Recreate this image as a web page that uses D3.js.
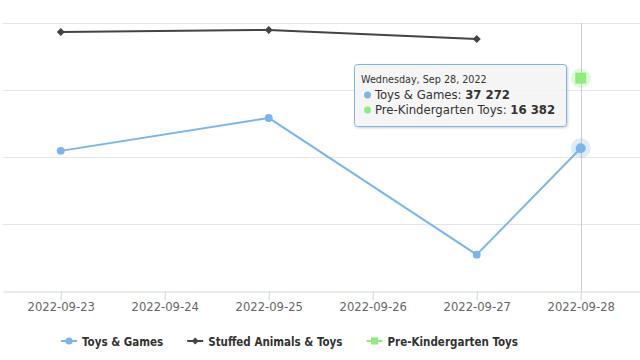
<!DOCTYPE html>
<html>
<head>
<meta charset="utf-8">
<script src="https://cdn.jsdelivr.net/npm/d3@7"></script>
<style>
  html, body { margin: 0; padding: 0; background: #fff; }
  svg { display: block; font-family: "DejaVu Sans Condensed", "DejaVu Sans", sans-serif; }
</style>
</head>
<body>
<svg id="chart" width="640" height="360"></svg>
<script>
// ---- data ----
const categories = ["2022-09-23", "2022-09-24", "2022-09-25", "2022-09-26", "2022-09-27", "2022-09-28"];
const toysGames = [36600, null, 45200, null, 9500, 37272];
const stuffedAnimals = [67650, null, 68200, null, 65800, null];
const preKindergarten = [null, null, null, null, null, 16382];
const seriesNames = ["Toys & Games", "Stuffed Animals & Toys", "Pre-Kindergarten Toys"];
const seriesColors = ["#7cb5ec", "#434348", "#90ed7d"];
const yTicks = [0, 17500, 35000, 52500, 70000];
const preKDomain = [0, 20630];
const tooltipHeader = "Wednesday, Sep 28, 2022";
const hoverIndex = 5;

// ---- setup ----
const svg = d3.select("#chart");
const plotLeft = 3, plotRight = 640, plotTop = 23, plotBottom = 291;

const x = d3.scaleLinear().domain([-0.555, 5.57]).range([plotLeft, plotRight]);
const y = d3.scaleLinear().domain([yTicks[0], yTicks[yTicks.length - 1]]).range([plotBottom, plotTop]);
const yPreK = d3.scaleLinear().domain(preKDomain).range([plotBottom, plotTop]);

// grid lines
svg.append("g").selectAll("line")
  .data(yTicks.slice(1))
  .join("line")
  .attr("x1", plotLeft).attr("x2", plotRight)
  .attr("y1", d => Math.round(y(d)) + 0.5).attr("y2", d => Math.round(y(d)) + 0.5)
  .attr("stroke", "#e6e6e6").attr("stroke-width", 1);

// crosshair
svg.append("line")
  .attr("x1", Math.round(x(hoverIndex)) + 0.5).attr("x2", Math.round(x(hoverIndex)) + 0.5)
  .attr("y1", plotTop).attr("y2", plotBottom)
  .attr("stroke", "#cccccc").attr("stroke-width", 1);

// x axis
const xAxis = d3.axisBottom(x)
  .tickValues(d3.range(categories.length))
  .tickFormat(i => categories[i])
  .tickSizeInner(9).tickSizeOuter(0).tickPadding(2);
const gx = svg.append("g").attr("transform", `translate(0,${plotBottom + 0.5})`).call(xAxis);
gx.select(".domain").attr("stroke", "#ccd6eb");
gx.selectAll(".tick line").attr("stroke", "#ccd6eb");
gx.selectAll(".tick text").attr("fill", "#666666").attr("font-size", "11.6px")
  .attr("font-family", "'DejaVu Sans', Verdana, sans-serif");

// series helpers
function pts(arr, scale) {
  return arr.map((v, i) => ({ i, v })).filter(d => d.v != null).map(d => ({ i: d.i, v: d.v, px: x(d.i), py: scale(d.v) }));
}
const lineGen = d3.line().x(d => d.px).y(d => d.py);

const seriesData = [pts(toysGames, y), pts(stuffedAnimals, y), pts(preKindergarten, yPreK)];
const symbolTypes = [d3.symbolCircle, d3.symbolSquare, d3.symbolSquare];
const symbolRotate = [0, 45, 0];

// lines
seriesData.forEach((data, s) => {
  if (data.length > 1) {
    svg.append("path").datum(data)
      .attr("d", lineGen)
      .attr("fill", "none")
      .attr("stroke", seriesColors[s])
      .attr("stroke-width", 2)
      .attr("stroke-linejoin", "round").attr("stroke-linecap", "round");
  }
});

// markers
const markerSizes = [50, 32, 64];
const hoverSizes = [80, 32, 121];
seriesData.forEach((data, s) => {
  const g = svg.append("g");
  data.forEach(d => {
    const hovered = d.i === hoverIndex;
    if (hovered) {
      g.append("circle").attr("cx", d.px).attr("cy", d.py).attr("r", 10)
        .attr("fill", seriesColors[s]).attr("opacity", 0.25);
    }
    g.append("path")
      .attr("transform", `translate(${d.px},${d.py}) rotate(${symbolRotate[s]})`)
      .attr("d", d3.symbol().type(symbolTypes[s]).size(hovered ? hoverSizes[s] : markerSizes[s]))
      .attr("fill", seriesColors[s]);
  });
});

// legend
const legend = svg.append("g").attr("transform", "translate(0,341)");
let lx = 61;
seriesNames.forEach((name, s) => {
  const item = legend.append("g").attr("transform", `translate(${lx},0)`);
  item.append("line").attr("x1", 0).attr("x2", 16).attr("y1", 0).attr("y2", 0)
    .attr("stroke", seriesColors[s]).attr("stroke-width", 2);
  item.append("path").attr("transform", `translate(8,0) rotate(${symbolRotate[s]})`)
    .attr("d", d3.symbol().type(symbolTypes[s]).size(markerSizes[s] * 0.8))
    .attr("fill", seriesColors[s]);
  const t = item.append("text").attr("x", 21).attr("y", 4.5)
    .attr("font-size", "11.5px").attr("font-weight", "bold").attr("fill", "#333333")
    .text(name);
  lx += 21 + t.node().getComputedTextLength() + 24;
});

// tooltip
const defs = svg.append("defs");
const filt = defs.append("filter").attr("id", "shadow").attr("x", "-10%").attr("y", "-10%").attr("width", "130%").attr("height", "140%");
filt.append("feDropShadow").attr("dx", 1).attr("dy", 1).attr("stdDeviation", 1.2).attr("flood-color", "#000").attr("flood-opacity", 0.2);

const tip = svg.append("g").attr("transform", "translate(354.5,64.5)");
const tipRect = tip.append("rect").attr("rx", 3).attr("ry", 3)
  .attr("fill", "rgba(247,247,247,0.85)").attr("stroke", seriesColors[0]).attr("stroke-width", 1)
  .attr("filter", "url(#shadow)");
tip.append("text").attr("x", 6.5).attr("y", 18).attr("font-size", "10.7px").attr("fill", "#333333").text(tooltipHeader);
const tipRows = [[0, toysGames[hoverIndex]], [2, preKindergarten[hoverIndex]]];
const fmt = v => d3.format(",")(v).replace(/,/g, " ");
tipRows.forEach(([s, v], k) => {
  const yy = 34.5 + k * 15;
  tip.append("circle").attr("cx", 13).attr("cy", yy - 4).attr("r", 3.5).attr("fill", seriesColors[s]);
  const t = tip.append("text").attr("x", 20.5).attr("y", yy).attr("font-size", "13px").attr("fill", "#333333");
  t.append("tspan").text(seriesNames[s] + ": ");
  t.append("tspan").attr("font-weight", "bold").text(fmt(v));
});
tipRect.attr("width", 212).attr("height", 62);
</script>
</body>
</html>
